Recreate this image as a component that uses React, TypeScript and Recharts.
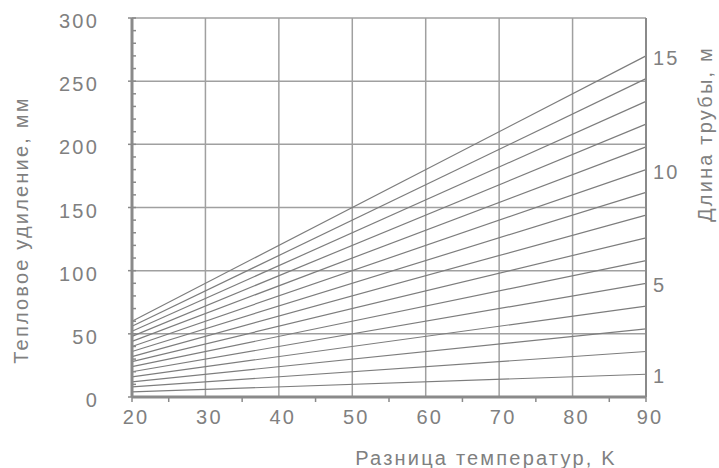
import React from "react";
import { LineChart, Line, XAxis, YAxis, CartesianGrid, Label } from "recharts";

const temperatures = [20, 90];
const pipeLengths = [1, 2, 3, 4, 5, 6, 7, 8, 9, 10, 11, 12, 13, 14, 15];
const expansionAt20 = [4, 8, 12, 16, 20, 24, 28, 32, 36, 40, 44, 48, 52, 56, 60];
const expansionAt90 = [18, 36, 54, 72, 90, 108, 126, 144, 162, 180, 198, 216, 234, 252, 270];
const xTicks = [20, 25, 30, 35, 40, 45, 50, 55, 60, 65, 70, 75, 80, 85, 90];
const xMajor = [30, 40, 50, 60, 70, 80];
const yTicks = [0, 10, 20, 30, 40, 50, 60, 70, 80, 90, 100, 110, 120, 130, 140, 150, 160, 170, 180, 190, 200, 210, 220, 230, 240, 250, 260, 270, 280, 290, 300];
const yMajor = [0, 50, 100, 150, 200, 250, 300];
const rightLabelLengths = [1, 5, 10, 15];

const xTitle = "Разница температур, K";
const yTitle = "Тепловое удиление, мм";
const rightTitle = "Длина трубы, м";

const FONT = "'Liberation Sans', Arial, sans-serif";
const FS = 20;
const LS = 2.2;
const TEXT = "#808080";
const AXIS = "#8a8a8a";
const GRID = "#a0a0a0";
const SERIES = "#7d7d7d";

const data = temperatures.map((t, i) => {
  const row: Record<string, number> = { t };
  pipeLengths.forEach((len, k) => {
    row["L" + len] = i === 0 ? expansionAt20[k] : expansionAt90[k];
  });
  return row;
});

const rightTicks = rightLabelLengths.map((len) => expansionAt90[pipeLengths.indexOf(len)]);
const rightLabel = (v: number) => {
  const idx = expansionAt90.indexOf(v);
  return idx >= 0 ? String(pipeLengths[idx]) : "";
};

const txt = { fontSize: FS, fill: TEXT, fontFamily: FONT, letterSpacing: LS };

const YTick = (props: any) => {
  const { x, y, payload } = props;
  const v = payload.value;
  const major = v % 50 === 0;
  return (
    <g>
      <line x1={major ? x - 4 : x} x2={x + 4} y1={y} y2={y} stroke={AXIS} strokeWidth={1.5} />
      {major && (
        <text x={x - 33} y={y + 3} dy="0.35em" textAnchor="end" {...txt}>
          {v}
        </text>
      )}
    </g>
  );
};

const RTick = (props: any) => {
  const { x, y, payload } = props;
  return (
    <text x={x + 7} y={y + 2} dy="0.35em" textAnchor="start" {...txt}>
      {rightLabel(payload.value)}
    </text>
  );
};

const XTick = (props: any) => {
  const { x, y, payload } = props;
  const v = payload.value;
  const isLabel = v % 10 === 0;
  const hasLine = !xMajor.includes(v);
  return (
    <g>
      {hasLine && <line x1={x} x2={x} y1={y} y2={y + 5} stroke={AXIS} strokeWidth={1.5} />}
      {isLabel && (
        <text x={x + 4} y={y + 20} dy="0.35em" textAnchor="middle" {...txt}>
          {v}
        </text>
      )}
    </g>
  );
};

export default function App() {
  return (
    <div style={{ position: "absolute", left: 0, top: 0, width: 719, height: 468, background: "#fff" }}>
      <LineChart width={719} height={468} data={data} margin={{ top: 18, right: 0, bottom: 0, left: 0 }}>
        <CartesianGrid
          yAxisId="left"
          stroke={GRID}
          strokeWidth={1.5}
          horizontalValues={yMajor}
          verticalValues={xMajor}
        />
        <XAxis
          dataKey="t"
          type="number"
          domain={[20, 90]}
          ticks={xTicks}
          interval={0}
          height={71}
          tickSize={0}
          tickMargin={0}
          tickLine={false}
          axisLine={{ stroke: AXIS, strokeWidth: 3 }}
          tick={<XTick />}
        >
          <Label
            content={() => (
              <text x={486} y={458} dy="0.35em" textAnchor="middle" {...txt}>
                {xTitle}
              </text>
            )}
          />
        </XAxis>
        <YAxis
          yAxisId="left"
          type="number"
          domain={[0, 300]}
          ticks={yTicks}
          interval={0}
          width={132}
          tickSize={0}
          tickMargin={0}
          tickLine={false}
          axisLine={{ stroke: AXIS, strokeWidth: 3 }}
          tick={<YTick />}
        >
          <Label
            content={() => (
              <text x={21} y={230} dy="0.35em" textAnchor="middle" {...txt} transform="rotate(-90 21 230)">
                {yTitle}
              </text>
            )}
          />
        </YAxis>
        <YAxis
          yAxisId="right"
          orientation="right"
          type="number"
          domain={[0, 300]}
          ticks={rightTicks}
          interval={0}
          width={73}
          tickSize={0}
          tickMargin={0}
          tickLine={false}
          axisLine={{ stroke: AXIS, strokeWidth: 2 }}
          tick={<RTick />}
        >
          <Label
            content={() => (
              <text x={705} y={134} dy="0.35em" textAnchor="middle" {...txt} transform="rotate(-90 705 134)">
                {rightTitle}
              </text>
            )}
          />
        </YAxis>
        {pipeLengths.map((len) => (
          <Line
            key={len}
            yAxisId={len === 15 ? "right" : "left"}
            type="linear"
            dataKey={"L" + len}
            stroke={SERIES}
            strokeWidth={1.2}
            dot={false}
            activeDot={false}
            isAnimationActive={false}
          />
        ))}
      </LineChart>
    </div>
  );
}
